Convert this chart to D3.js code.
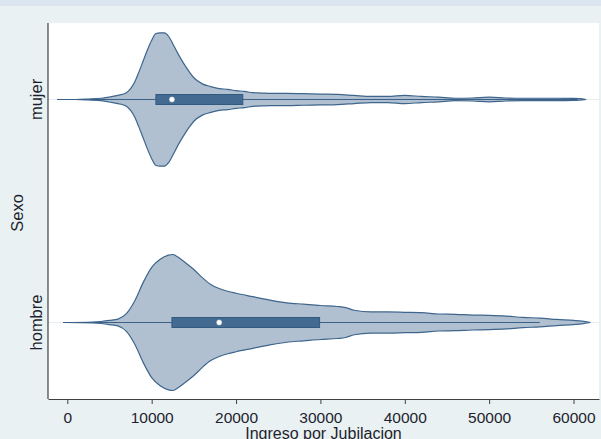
<!DOCTYPE html>
<html>
<head>
<meta charset="utf-8">
<script src="https://cdn.jsdelivr.net/npm/d3@7"></script>
<style>
  body { margin: 0; background: #e9f1f3; }
  svg { display: block; font-family: "Liberation Sans", Arial, sans-serif; }
</style>
</head>
<body>
<div id="grafico"></div>
<script>
// categorias
const sexos = ["mujer", "hombre"];

// densidad (relativa) de ingreso por jubilacion, mujer
const ingresoMujer = [-1200, 1000, 2500, 4000, 5000, 6000, 7000, 7500, 8000, 8500, 9000, 9500, 10000, 10500, 11000, 11500,
  12000, 12500, 13000, 13500, 14000, 14500, 15000, 16000, 17000, 18000, 19000, 20000, 21000, 22000, 23000, 24000,
  26000, 28000, 30000, 32000, 34000, 36000, 38000, 40000, 42000, 44000, 46000, 48000, 50000, 52000, 54000, 56000,
  58000, 60000, 61500];
const densMujer = [0, 0, 0.007, 0.018, 0.037, 0.06, 0.10, 0.16, 0.26, 0.41, 0.57, 0.73, 0.87, 0.97, 0.98, 0.98,
  0.93, 0.82, 0.70, 0.59, 0.49, 0.40, 0.32, 0.23, 0.19, 0.16, 0.15, 0.13, 0.12, 0.10, 0.095, 0.09,
  0.09, 0.085, 0.08, 0.075, 0.06, 0.045, 0.045, 0.06, 0.045, 0.035, 0.018, 0.022, 0.035, 0.022, 0.018, 0.018,
  0.018, 0.015, 0];

// densidad (relativa), hombre
const ingresoHombre = [-500, 3000, 4000, 5000, 6000, 7000, 8000, 9000, 10000, 11000, 12000, 12500, 13000, 14000, 15000,
  16000, 17000, 18000, 19000, 20000, 22000, 24000, 26000, 28000, 30000, 32000, 33000, 34000, 36000, 38000, 40000,
  42000, 44000, 46000, 48000, 50000, 52000, 54000, 56000, 58000, 60000, 61000, 62000];
const densHombre = [0, 0.007, 0.015, 0.03, 0.05, 0.13, 0.32, 0.59, 0.81, 0.93, 0.99, 1.0, 0.97, 0.88, 0.78,
  0.66, 0.56, 0.50, 0.46, 0.43, 0.38, 0.33, 0.29, 0.27, 0.25, 0.235, 0.22, 0.18, 0.155, 0.155, 0.15,
  0.145, 0.125, 0.12, 0.11, 0.105, 0.095, 0.075, 0.065, 0.045, 0.03, 0.02, 0];

// resumen de caja: mujer, hombre
const q1 = [10500, 12400];
const mediana = [12400, 18000];
const q3 = [20800, 29900];
const bigoteMin = [-1200, -500];
const bigoteMax = [60500, 56000];

const ticksX = [0, 10000, 20000, 30000, 40000, 50000, 60000];

const W = 601, H = 439;
const plot = { left: 48, right: 599, top: 23, bottom: 399 };

const svg = d3.select("#grafico").append("svg")
  .attr("width", W)
  .attr("height", H);

// fondo
svg.append("rect").attr("width", W).attr("height", H).attr("fill", "#e9f1f3");
svg.append("rect").attr("width", W).attr("height", 6).attr("fill", "#dbe5f0");
svg.append("rect")
  .attr("x", plot.left).attr("y", plot.top)
  .attr("width", plot.right - plot.left).attr("height", plot.bottom - plot.top)
  .attr("fill", "#ffffff");

// escalas
const x = d3.scaleLinear().domain([-2290, 63020]).range([plot.left, plot.right]);
const y = d3.scalePoint().domain(sexos).range([plot.top, plot.bottom]).padding(0.343);
const w = d3.scaleLinear().domain([0, 1]).range([0, 68]);

// lineas guia por categoria
svg.append("g").selectAll("line").data(sexos).join("line")
  .attr("x1", plot.left).attr("x2", plot.right)
  .attr("y1", d => y(d)).attr("y2", d => y(d))
  .attr("stroke", "#e6eef2").attr("stroke-width", 1);

const violines = [
  { sexo: "mujer", pts: ingresoMujer.map((v, i) => [v, densMujer[i]]) },
  { sexo: "hombre", pts: ingresoHombre.map((v, i) => [v, densHombre[i]]) }
];

const area = d3.area()
  .curve(d3.curveMonotoneX)
  .x(d => x(d[0]));

violines.forEach((vi, i) => {
  const cy = y(vi.sexo);
  svg.append("path")
    .datum(vi.pts)
    .attr("d", area.y0(d => cy + w(d[1])).y1(d => cy - w(d[1])))
    .attr("fill", "#b0c0d1")
    .attr("stroke", "#3e658c")
    .attr("stroke-width", 1.2);

  // bigote
  svg.append("line")
    .attr("x1", x(bigoteMin[i])).attr("x2", x(bigoteMax[i]))
    .attr("y1", cy).attr("y2", cy)
    .attr("stroke", "#3c6189").attr("stroke-width", 1);

  // caja
  svg.append("rect")
    .attr("x", x(q1[i])).attr("y", cy - 5)
    .attr("width", x(q3[i]) - x(q1[i])).attr("height", 10)
    .attr("fill", "#436a90")
    .attr("stroke", "#335a80").attr("stroke-width", 1);

  svg.append("circle")
    .attr("cx", x(mediana[i])).attr("cy", cy)
    .attr("r", 3)
    .attr("fill", "#ffffff")
    .attr("stroke", "#2c4f73").attr("stroke-width", 0.5);
});

// ejes
const ejeX = svg.append("g")
  .attr("transform", "translate(0," + plot.bottom + ")")
  .call(d3.axisBottom(x).tickValues(ticksX).tickSize(5).tickSizeOuter(0).tickPadding(8).tickFormat(d3.format("d")));
ejeX.select(".domain").attr("stroke", "#404040").attr("stroke-width", 1.2);
ejeX.selectAll(".tick line").attr("stroke", "#404040");
ejeX.selectAll("text").attr("font-size", 15.5).attr("fill", "#1e1e2e")
  .attr("font-family", "Liberation Sans, Arial, sans-serif");

svg.append("line")
  .attr("x1", plot.left).attr("x2", plot.left)
  .attr("y1", plot.top).attr("y2", plot.bottom)
  .attr("stroke", "#404040").attr("stroke-width", 1.2);

// etiquetas de categoria
svg.append("g").selectAll("text").data(sexos).join("text")
  .attr("transform", d => "translate(42," + y(d) + ") rotate(-90)")
  .attr("text-anchor", "middle")
  .attr("font-size", 16.5)
  .attr("fill", "#1e1e2e")
  .text(d => d);

// titulos
svg.append("text")
  .attr("x", (plot.left + plot.right) / 2).attr("y", 439)
  .attr("text-anchor", "middle")
  .attr("font-size", 16)
  .attr("fill", "#1e1e2e")
  .text("Ingreso por Jubilacion");

svg.append("text")
  .attr("transform", "translate(23," + ((plot.top + plot.bottom) / 2 + 2) + ") rotate(-90)")
  .attr("text-anchor", "middle")
  .attr("font-size", 16.5)
  .attr("fill", "#1e1e2e")
  .text("Sexo");
</script>
</body>
</html>
